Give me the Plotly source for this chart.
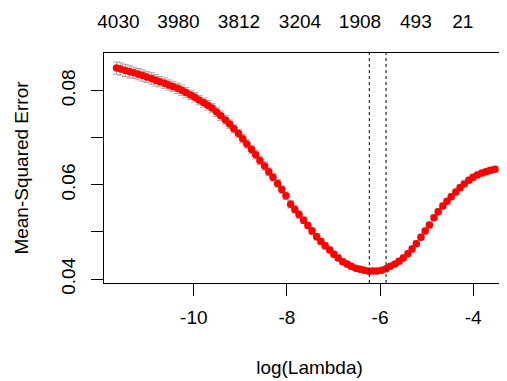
import plotly.graph_objects as go

# log(lambda) sequence
log_lambda = [
    -11.66, -11.57, -11.47, -11.38, -11.29, -11.19, -11.10, -11.01, -10.91, -10.82,
    -10.73, -10.63, -10.54, -10.45, -10.35, -10.26, -10.17, -10.07, -9.98, -9.89,
    -9.79, -9.70, -9.61, -9.51, -9.42, -9.32, -9.23, -9.14, -9.04, -8.95,
    -8.86, -8.76, -8.67, -8.58, -8.48, -8.39, -8.30, -8.20, -8.11, -8.02,
    -7.92, -7.83, -7.74, -7.64, -7.55, -7.46, -7.36, -7.27, -7.18, -7.08,
    -6.99, -6.90, -6.80, -6.71, -6.62, -6.52, -6.43, -6.34, -6.24, -6.15,
    -6.06, -5.96, -5.87, -5.78, -5.68, -5.59, -5.50, -5.40, -5.31, -5.22,
    -5.12, -5.03, -4.94, -4.84, -4.75, -4.65, -4.56, -4.47, -4.37, -4.28,
    -4.19, -4.09, -4.00, -3.91, -3.81, -3.72, -3.63, -3.53,
]

# cross-validated mean squared error
cvm = [
    0.0848, 0.0846, 0.0843, 0.0840, 0.0838, 0.0835, 0.0832, 0.0829, 0.0826, 0.0822,
    0.0819, 0.0816, 0.0812, 0.0809, 0.0805, 0.0801, 0.0796, 0.0791, 0.0786, 0.0780,
    0.0775, 0.0769, 0.0763, 0.0755, 0.0747, 0.0738, 0.0729, 0.0719, 0.0709, 0.0698,
    0.0687, 0.0675, 0.0664, 0.0652, 0.0640, 0.0628, 0.0616, 0.0603, 0.0590, 0.0577,
    0.0559, 0.0548, 0.0537, 0.0525, 0.0514, 0.0502, 0.0490, 0.0480, 0.0471, 0.0462,
    0.0453, 0.0445, 0.0437, 0.0432, 0.0427, 0.0423, 0.0421, 0.0419, 0.04168, 0.04170,
    0.04172, 0.0419, 0.0422, 0.0427, 0.0432, 0.0438, 0.0445, 0.0454, 0.0464, 0.0475,
    0.0489, 0.0502, 0.0515, 0.0530, 0.0543, 0.0555, 0.0565, 0.0575, 0.0585, 0.0594,
    0.0602, 0.0610, 0.0616, 0.0621, 0.0625, 0.0628, 0.0631, 0.0633,
]

# standard error of the CV estimate
cvsd = [
    0.0013, 0.0013, 0.0013, 0.0013, 0.0012, 0.0012, 0.0012, 0.0012, 0.0012, 0.0012,
    0.0011, 0.0011, 0.0011, 0.0011, 0.0011, 0.0011, 0.0011, 0.0010, 0.0010, 0.0010,
    0.0010, 0.0010, 0.0010, 0.0010, 0.0010, 0.0009, 0.0009, 0.0009, 0.0009, 0.0009,
    0.0009, 0.0009, 0.0009, 0.0009, 0.0009, 0.0008, 0.0008, 0.0008, 0.0008, 0.0008,
    0.0008, 0.0008, 0.0008, 0.0007, 0.0007, 0.0007, 0.0007, 0.0007, 0.0007, 0.0006,
    0.0006, 0.0006, 0.0006, 0.0006, 0.0006, 0.0005, 0.0005, 0.0005, 0.0005, 0.0005,
    0.0005, 0.0005, 0.0005, 0.0005, 0.0005, 0.0006, 0.0006, 0.0006, 0.0006, 0.0006,
    0.0006, 0.0006, 0.0006, 0.0006, 0.0006, 0.0006, 0.0006, 0.0006, 0.0006, 0.0006,
    0.0006, 0.0006, 0.0006, 0.0006, 0.0006, 0.0006, 0.0006, 0.0006,
]

# number of non-zero coefficients shown on top axis
top_positions = [-11.62, -10.33, -9.03, -7.72, -6.43, -5.23, -4.22]
top_labels = ["4030", "3980", "3812", "3204", "1908", "493", "21"]

lambda_min = -6.23
lambda_1se = -5.87

x_ticks = [-10, -8, -6, -4]
x_tick_labels = ["-10", "-8", "-6", "-4"]
y_ticks = [0.04, 0.05, 0.06, 0.07, 0.08]
y_tick_labels = ["0.04", "", "0.06", "", "0.08"]

FONT = "Liberation Sans, Arial, sans-serif"
FS = 19

fig = go.Figure()
fig.add_trace(go.Scatter(
    x=log_lambda, y=cvm, mode="markers",
    marker=dict(color="#FF0000", size=7.5, line=dict(width=0)),
    error_y=dict(type="data", array=cvsd, visible=True,
                 color="#A8A8A8", thickness=1, width=3.5),
    showlegend=False, hoverinfo="skip",
))
# invisible trace for top axis
fig.add_trace(go.Scatter(x=[log_lambda[0]], y=[cvm[0]], xaxis="x2",
                         mode="markers", marker=dict(opacity=0),
                         showlegend=False, hoverinfo="skip"))

for v in (lambda_min, lambda_1se):
    fig.add_vline(x=v, line=dict(color="black", width=1, dash="dot"))

xr = [-11.93, -3.10]
fig.update_layout(
    width=507, height=381,
    margin=dict(l=96, r=0, t=45, b=106, autoexpand=False),
    paper_bgcolor="white", plot_bgcolor="white",
    font=dict(family=FONT, size=FS, color="black"),
    xaxis=dict(
        range=xr, tickvals=x_ticks, ticktext=x_tick_labels, automargin=False,
        ticks="outside", ticklen=12, tickwidth=1, tickcolor="black",
        showline=True, linecolor="black", linewidth=1, mirror=True,
        showgrid=False, zeroline=False,
        ticklabelstandoff=5,
        title=dict(text="log(Lambda)", standoff=33,
                   font=dict(family=FONT, size=FS, color="black")),
        tickfont=dict(family=FONT, size=FS, color="black"),
    ),
    xaxis2=dict(
        range=xr, overlaying="x", side="top", automargin=False,
        tickvals=top_positions, ticktext=top_labels,
        ticks="", showline=False, showgrid=False, zeroline=False,
        ticklabelstandoff=20,
        tickfont=dict(family=FONT, size=FS, color="black"),
    ),
    yaxis=dict(
        range=[0.03917, 0.0880], tickvals=y_ticks, ticktext=y_tick_labels,
        automargin=False,
        ticks="outside", ticklen=12, tickwidth=1, tickcolor="black",
        showline=True, linecolor="black", linewidth=1, mirror=False,
        showgrid=False, zeroline=False, tickangle=-90,
        ticklabelstandoff=8,
        title=dict(text="Mean-Squared Error", standoff=24,
                   font=dict(family=FONT, size=FS, color="black")),
        tickfont=dict(family=FONT, size=FS, color="black"),
    ),
)

fig.write_html("out.html")
